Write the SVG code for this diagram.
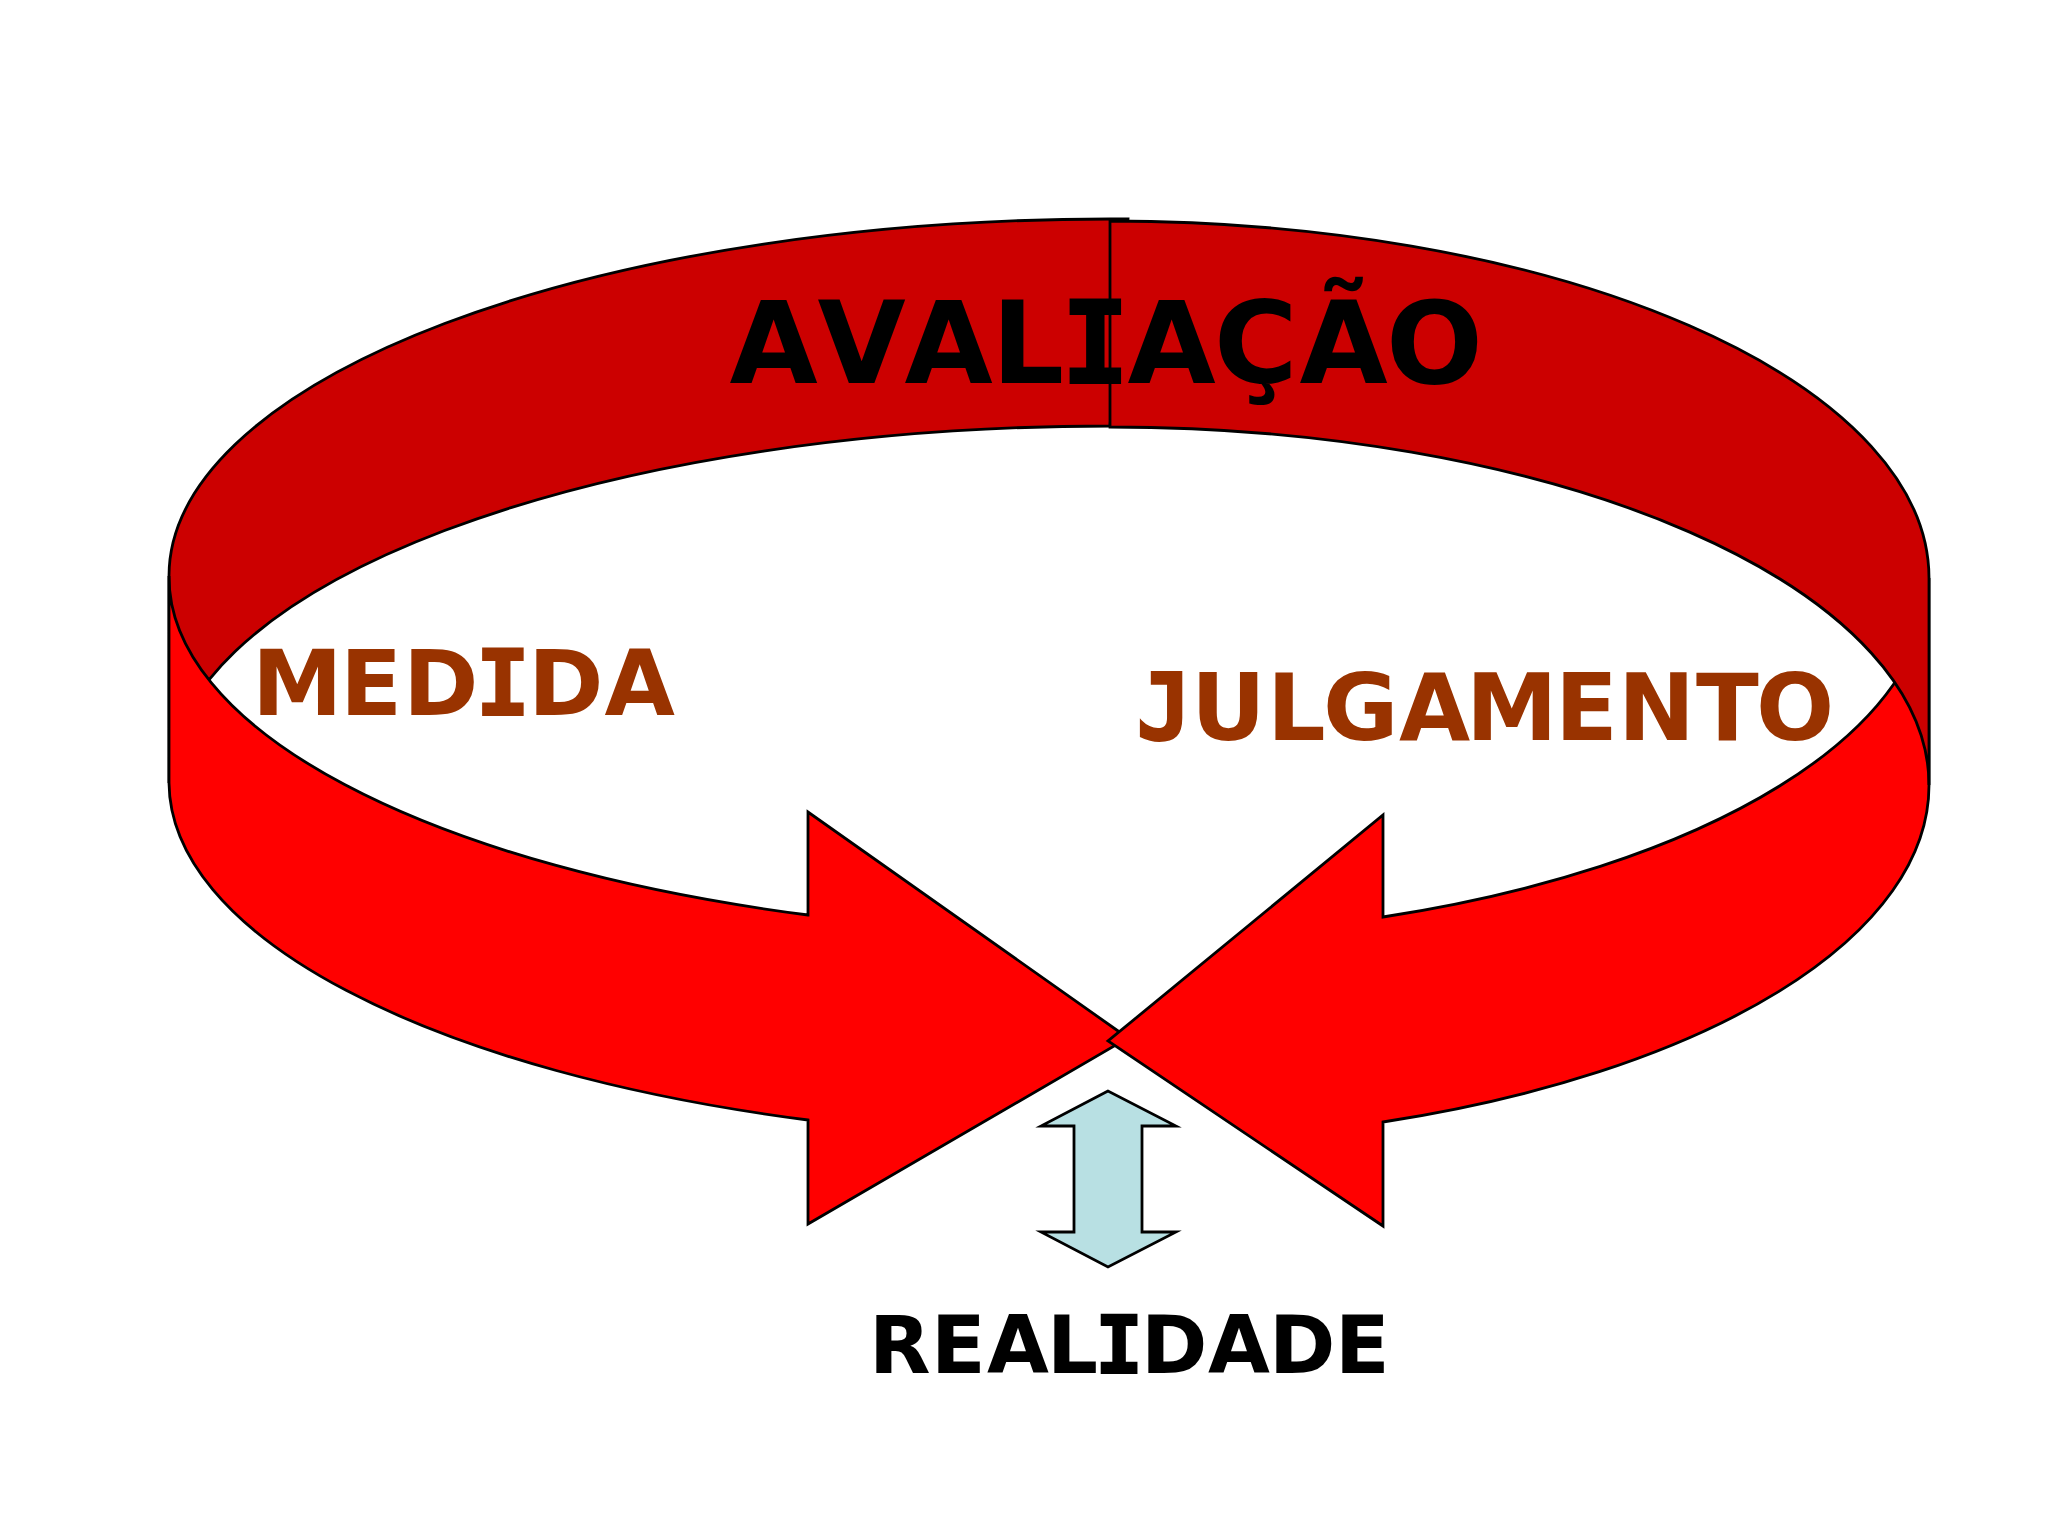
<svg xmlns="http://www.w3.org/2000/svg" width="2048" height="1536" viewBox="0 0 2048 1536">
<style>
.s{stroke:#000;stroke-width:2.8;stroke-linejoin:miter;stroke-miterlimit:10}
.dark{fill:#CC0000}.bright{fill:#FF0000}
text{font-family:"DejaVu Sans","Liberation Sans",sans-serif;font-weight:bold}
.m{font-family:"DejaVu Sans Mono","Liberation Mono",monospace;stroke-width:2}
.k{stroke:#000}
.b{stroke:#993300}
.brown{fill:#993300}
</style>
<rect width="2048" height="1536" fill="#fff"/>
<g id="arco-esquerdo">
<path class="s dark" d="M169 576A941 357 0 0 1 1110 219H1128L1110 426A941 357 0 0 0 169 783Z"/>
<path class="s bright" d="M169 576V783A941 357 0 0 0 808 1120V1224L1128 1038L808 812V915A941 357 0 0 1 169 576Z"/>
</g>
<g id="arco-direito">
<path class="s bright" d="M1929 578V785A819 357 0 0 1 1383 1122V1226L1108 1041L1383 815V917A819 357 0 0 0 1929 578Z"/>
<path class="s dark" d="M1110 221A819 357 0 0 1 1929 578V785A819 358 0 0 0 1110 427Z"/>
</g>
<g id="seta-realidade">
<path class="s" fill="#B8E0E3" d="M1108 1091L1041 1126H1074V1232H1041L1108 1267L1176 1232H1142V1126H1176Z"/>
</g>
<g id="avaliacao"><text y="383" font-size="114" fill="#000"><tspan x="729.5 817.5 904.5 991.5">AVAL</tspan><tspan class="m k" x="1061">I</tspan><tspan x="1127.5 1214 1299.5 1386">AÇÃO</tspan></text></g>
<g id="medida"><text y="715" font-size="91" class="brown"><tspan x="252 340 403">MED</tspan><tspan class="m b" x="475.6">I</tspan><tspan x="528 604.5">DA</tspan></text></g>
<g id="julgamento"><text y="740" font-size="92" class="brown"><tspan class="m b" x="1136">J</tspan><tspan x="1191 1267 1323 1399 1466 1555 1618 1696 1756">ULGAMENTO</tspan></text></g>
<g id="realidade"><text y="1373" font-size="80" fill="#000"><tspan x="869 931 987 1047">REAL</tspan><tspan class="m k" x="1095">I</tspan><tspan x="1141 1208 1269 1335">DADE</tspan></text></g>
</svg>
